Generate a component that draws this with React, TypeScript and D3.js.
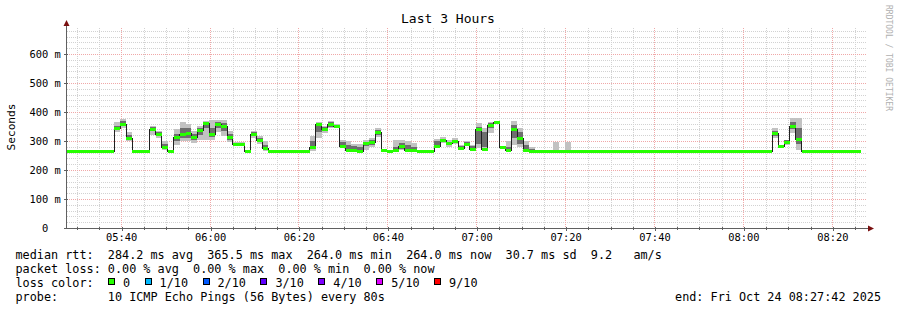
import React from "react";
import * as d3 from "d3";

// ---------- data ----------
const endTime = Date.UTC(2025, 9, 24, 8, 27, 42);
const spanHours = 3;
const stepSeconds = 80;

// median rtt per 80 s step (ms)
const median = [
  264, 264, 264, 264, 264, 264, 264, 264,
  344, 359, 311, 266, 264, 264, 342, 324, 278, 264,
  315, 325, 328, 314, 337, 362, 324, 359, 353, 314,
  290, 290, 265, 324, 305, 276, 264, 264, 264, 267,
  264, 264, 264, 278, 359, 343, 358, 352, 284, 268,
  270, 266, 294, 297, 330, 269, 264, 268, 282, 270,
  268, 264, 264, 264, 284, 303, 292, 299, 276, 290,
  272, 342, 273, 356, 364, 278, 268, 342, 310, 268,
  266, 264, 264, 264, 266, 264, 266, 264, 264, 264,
  264, 264, 264, 264, 264, 264, 264, 264, 264, 264,
  264, 264, 264, 264, 264, 264, 264, 264, 264, 264,
  264, 264, 264, 264, 264, 264, 264, 264, 264, 264,
  264, 327, 282, 297, 351, 307, 265, 264, 264, 264,
  264, 264, 264, 264, 264, 264,
];
// outer smoke (min / max ping of the step)
const smokeLo = [
  264, 264, 264, 264, 264, 264, 264, 264,
  330, 345, 299, 264, 264, 264, 322, 310, 270, 264,
  285, 299, 300, 293, 305, 305, 305, 330, 318, 298,
  284, 284, 264, 312, 290, 265, 264, 264, 264, 265,
  264, 264, 264, 265, 310, 328, 345, 344, 276, 265,
  265, 265, 270, 280, 315, 267, 264, 265, 268, 265,
  265, 264, 264, 264, 276, 293, 278, 290, 270, 282,
  265, 276, 270, 328, 358, 275, 265, 287, 278, 265,
  264, 264, 264, 264, 264, 264, 264, 264, 264, 264,
  264, 264, 264, 264, 264, 264, 264, 264, 264, 264,
  264, 264, 264, 264, 264, 264, 264, 264, 264, 264,
  264, 264, 264, 264, 264, 264, 264, 264, 264, 264,
  264, 310, 276, 287, 328, 270, 264, 264, 264, 264,
  264, 264, 264, 264, 264, 264,
];
const smokeHi = [
  264, 264, 264, 264, 264, 264, 264, 264,
  366, 377, 331, 268, 264, 264, 352, 334, 300, 264,
  340, 365, 360, 333, 351, 370, 372, 373, 372, 336,
  295, 295, 266, 333, 316, 299, 264, 264, 264, 269,
  264, 264, 264, 316, 366, 352, 370, 360, 305, 300,
  290, 290, 305, 310, 345, 271, 264, 305, 305, 300,
  293, 264, 264, 264, 308, 313, 305, 310, 288, 299,
  288, 362, 345, 366, 370, 282, 300, 368, 345, 299,
  278, 264, 264, 264, 298, 264, 298, 264, 264, 264,
  264, 264, 264, 264, 264, 264, 264, 264, 264, 264,
  264, 264, 264, 264, 264, 264, 264, 264, 264, 264,
  264, 264, 264, 264, 264, 264, 264, 264, 264, 264,
  264, 345, 288, 305, 380, 380, 268, 264, 264, 264,
  264, 264, 264, 264, 264, 264,
];
// inner (dense) smoke
const innerLo = [
  264, 264, 264, 264, 264, 264, 264, 264,
  338, 352, 305, 265, 264, 264, 335, 318, 274, 264,
  300, 310, 312, 302, 320, 345, 315, 345, 335, 305,
  287, 287, 264, 318, 298, 270, 264, 264, 264, 266,
  264, 264, 264, 272, 330, 336, 350, 348, 280, 267,
  268, 266, 282, 288, 322, 268, 264, 266, 272, 268,
  266, 264, 264, 264, 280, 298, 285, 294, 272, 285,
  268, 290, 280, 345, 360, 276, 266, 310, 290, 266,
  265, 264, 264, 264, 265, 264, 265, 264, 264, 264,
  264, 264, 264, 264, 264, 264, 264, 264, 264, 264,
  264, 264, 264, 264, 264, 264, 264, 264, 264, 264,
  264, 264, 264, 264, 264, 264, 264, 264, 264, 264,
  264, 318, 278, 292, 340, 290, 264, 264, 264, 264,
  264, 264, 264, 264, 264, 264,
];
const innerHi = [
  264, 264, 264, 264, 264, 264, 264, 264,
  352, 368, 320, 267, 264, 264, 347, 330, 290, 264,
  325, 345, 345, 325, 345, 365, 345, 366, 362, 325,
  293, 293, 266, 330, 310, 285, 264, 264, 264, 268,
  264, 264, 264, 300, 362, 348, 364, 356, 296, 285,
  282, 278, 298, 302, 338, 270, 264, 280, 292, 285,
  280, 264, 264, 264, 300, 308, 298, 305, 282, 295,
  282, 350, 330, 362, 367, 280, 280, 355, 330, 285,
  272, 264, 264, 264, 270, 264, 270, 264, 264, 264,
  264, 264, 264, 264, 264, 264, 264, 264, 264, 264,
  264, 264, 264, 264, 264, 264, 264, 264, 264, 264,
  264, 264, 264, 264, 264, 264, 264, 264, 264, 264,
  264, 335, 285, 302, 365, 345, 267, 264, 264, 264,
  264, 264, 264, 264, 264, 264,
];

const yMajorTicks = [0, 100, 200, 300, 400, 500, 600];
const yTickLabels = ["  0", "100 m", "200 m", "300 m", "400 m", "500 m", "600 m"];
const yMax = 690;

const title = "Last 3 Hours";
const yLabel = "Seconds";
const watermark = "RRDTOOL / TOBI OETIKER";
const legendLines = [
  "median rtt:  284.2 ms avg  365.5 ms max  264.0 ms min  264.0 ms now  30.7 ms sd  9.2   am/s",
  "packet loss: 0.00 % avg  0.00 % max  0.00 % min  0.00 % now",
  "loss color:",
  "probe:       10 ICMP Echo Pings (56 Bytes) every 80s",
];
const lossLabels = ["0", "1/10", "2/10", "3/10", "4/10", "5/10", "9/10"];
const lossColors = ["#26ff00", "#00b8ff", "#0059ff", "#5e00ff", "#7e00ff", "#dd00ff", "#ff0000"];
const endLabel = "end: Fri Oct 24 08:27:42 2025";

// ---------- layout ----------
const W = 897;
const H = 310;
const PL = 67, PR = 867, PT = 28, PB = 228;
const FONT = "'DejaVu Sans Mono', monospace";
const CH = 7.1; // legend char advance
const nb = (s: string) => s.replace(/ /g, "\u00a0");

export default function App() {
  const start = endTime - spanHours * 3600 * 1000;
  const x = d3.scaleUtc().domain([new Date(start), new Date(endTime)]).range([PL, PR]);
  const y = d3.scaleLinear().domain([0, yMax]).range([PB, PT]);
  const tAt = (k: number) => new Date(start + k * stepSeconds * 1000);
  const n = median.length;

  const minorX = d3.utcMinute.every(5)!.range(new Date(start), new Date(endTime));
  const majorX = d3.utcMinute.every(20)!.range(new Date(start), new Date(endTime));
  const majorSet = new Set(majorX.map((d) => +d));
  const fmt = d3.utcFormat("%H:%M");

  const minorY = d3.range(20, yMax, 20).filter((v) => v % 100 !== 0);

  const linePts = median.map((v, i) => [i, v] as [number, number]);
  linePts.push([n, median[n - 1]]);
  const medLine = d3
    .line<[number, number]>()
    .x((d) => x(tAt(d[0])))
    .y((d) => Math.round(y(d[1])) + 0.5)
    .curve(d3.curveStepAfter)(linePts)!;

  // loss colour legend boxes
  let bx = 108;
  const boxes = lossLabels.map((lab, i) => {
    const item = { bx, tx: bx + 15, lab, color: lossColors[i] };
    bx = item.tx + lab.length * CH + 14.5;
    return item;
  });

  const legendY = [259, 273, 287, 301];

  return (
    <svg
      width={W}
      height={H}
      viewBox={`0 0 ${W} ${H}`}
      style={{ position: "absolute", left: 0, top: 0, background: "#fff" }}
      fontFamily={FONT}
    >
      <rect x={0} y={0} width={W} height={H} fill="#ffffff" />
      {/* grid */}
      <g shapeRendering="crispEdges" strokeWidth={1} strokeDasharray="1,1">
        {minorX
          .filter((d) => !majorSet.has(+d))
          .map((d, i) => (
            <line key={"mx" + i} x1={Math.round(x(d)) + 0.5} x2={Math.round(x(d)) + 0.5} y1={PT} y2={PB} stroke="#d2d2d2" />
          ))}
        {minorY.map((v, i) => (
          <line key={"my" + i} x1={PL} x2={PR} y1={Math.round(y(v)) + 0.5} y2={Math.round(y(v)) + 0.5} stroke="#d2d2d2" />
        ))}
        {majorX.map((d, i) => (
          <line key={"Mx" + i} x1={Math.round(x(d)) - 0.5} x2={Math.round(x(d)) - 0.5} y1={PT} y2={PB} stroke="#f0a8a8" />
        ))}
        {yMajorTicks.slice(1).map((v, i) => (
          <line key={"My" + i} x1={PL} x2={PR} y1={Math.round(y(v)) + 0.5} y2={Math.round(y(v)) + 0.5} stroke="#f0a8a8" />
        ))}
      </g>

      {/* smoke */}
      <g shapeRendering="crispEdges">
        {median.map((_, k) => {
          const x0 = x(tAt(k));
          const x1 = x(tAt(k + 1));
          const els = [];
          if (smokeHi[k] > smokeLo[k])
            els.push(
              <rect key={"o" + k} x={x0} width={x1 - x0} y={y(smokeHi[k])} height={y(smokeLo[k]) - y(smokeHi[k])} fill="#c2c2c2" />
            );
          if (innerHi[k] > innerLo[k])
            els.push(
              <rect key={"i" + k} x={x0} width={x1 - x0} y={y(innerHi[k])} height={y(innerLo[k]) - y(innerHi[k])} fill="#6e6e6e" />
            );
          return els;
        })}
      </g>

      {/* median line */}
      <path d={medLine} fill="none" stroke="#202020" strokeWidth={1} shapeRendering="crispEdges" />
      <g shapeRendering="crispEdges">
        {median.map((v, k) => {
          const x0 = x(tAt(k));
          const x1 = x(tAt(k + 1));
          const yy = Math.round(y(v));
          return <rect key={"g" + k} x={x0} width={x1 - x0} y={yy - 1} height={3} fill={lossColors[0]} />;
        })}
      </g>

      {/* axes */}
      <g stroke="#606060" shapeRendering="crispEdges">
        <line x1={PL - 0.5} x2={PL - 0.5} y1={PB + 0.5} y2={24} />
        <line x1={PL - 2} x2={PR + 2} y1={PB + 0.5} y2={PB + 0.5} />
        {minorX.map((d, i) => (
          <line key={"tx" + i} x1={Math.round(x(d)) + 0.5} x2={Math.round(x(d)) + 0.5} y1={PB - 1} y2={PB + (majorSet.has(+d) ? 3 : 2)} />
        ))}
        {yMajorTicks.map((v, i) => (
          <line key={"ty" + i} x1={PL - 3} x2={PL + 1} y1={Math.round(y(v)) + 0.5} y2={Math.round(y(v)) + 0.5} />
        ))}
      </g>
      <path d={`M${PL - 3.5},26 L${PL + 2.5},26 L${PL - 0.5},20 Z`} fill="#7a1010" />
      <path d={`M${PR + 1},${PB - 2.5} L${PR + 1},${PB + 3.5} L${PR + 7},${PB + 0.5} Z`} fill="#7a1010" />

      {/* tick labels */}
      <g fontSize={10.4} fill="#000">
        {yMajorTicks.map((v, i) => (
          <text key={"yl" + i} x={29.5} y={y(v) + 3.7}>
            {nb(yTickLabels[i])}
          </text>
        ))}
        {majorX.map((d, i) => (
          <text key={"xl" + i} x={x(d)} y={241} textAnchor="middle">
            {fmt(d)}
          </text>
        ))}
      </g>

      {/* title & labels */}
      <text x={448} y={23} fontSize={13} textAnchor="middle" fill="#000">
        {title}
      </text>
      <text transform={`translate(15,127) rotate(-90)`} fontSize={11.2} textAnchor="middle" fill="#000">
        {yLabel}
      </text>
      <text transform={`translate(885.5,5) rotate(90)`} fontSize={8} fill="#b0b0b0">
        {watermark}
      </text>

      {/* legend */}
      <g fontSize={11.8} fill="#000">
        {legendLines.map((l, i) => (
          <text key={"lg" + i} x={15.5} y={legendY[i]}>
            {nb(l)}
          </text>
        ))}
        {boxes.map((b, i) => (
          <g key={"bx" + i}>
            <rect x={b.bx + 0.5} y={278.5} width={6} height={6} fill={b.color} stroke="#000" strokeWidth={1} shapeRendering="crispEdges" />
            <text x={b.tx} y={legendY[2]}>
              {b.lab}
            </text>
          </g>
        ))}
        <text x={881} y={legendY[3]} textAnchor="end">
          {endLabel}
        </text>
      </g>
    </svg>
  );
}
